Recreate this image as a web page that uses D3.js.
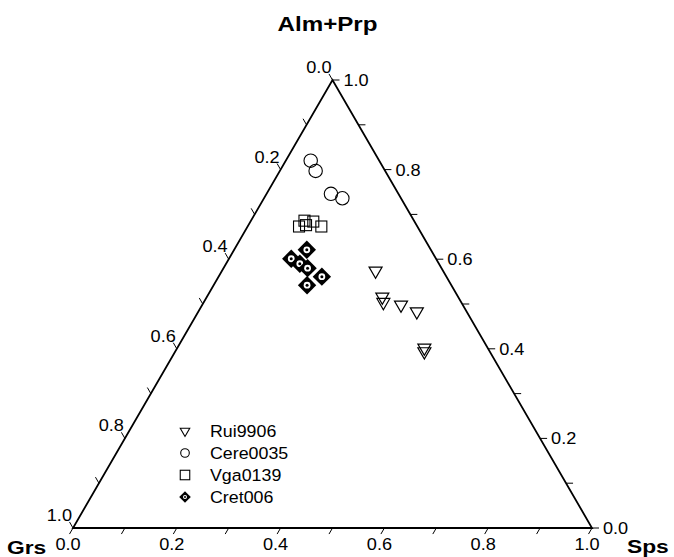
<!DOCTYPE html>
<html>
<head>
<meta charset="utf-8">
<script src="https://cdn.jsdelivr.net/npm/d3@7"></script>
<style>
  html, body { margin: 0; padding: 0; background: #fff; }
  svg { display: block; }
  text { font-family: Arial, "Liberation Sans", sans-serif; fill: #000; }
</style>
</head>
<body>
<svg id="chart" width="674" height="557"></svg>
<script>
// Garnet end-member fractions, each point as [Grs, Sps, Alm+Prp]
const rui9906 = [
  [0.130, 0.296, 0.574],
  [0.146, 0.338, 0.516],
  [0.150, 0.346, 0.504],
  [0.119, 0.383, 0.498],
  [0.096, 0.421, 0.483],
  [0.122, 0.476, 0.402],
  [0.126, 0.480, 0.394]
];
const cere0035 = [
  [0.132, 0.048, 0.820],
  [0.134, 0.069, 0.797],
  [0.130, 0.124, 0.746],
  [0.113, 0.151, 0.736]
];
const vga0139 = [
  [0.228, 0.099, 0.673],
  [0.211, 0.103, 0.686],
  [0.213, 0.111, 0.676],
  [0.195, 0.121, 0.684],
  [0.185, 0.142, 0.673]
];
const cret006 = [
  [0.239, 0.140, 0.621],
  [0.279, 0.120, 0.601],
  [0.268, 0.142, 0.590],
  [0.258, 0.162, 0.580],
  [0.240, 0.199, 0.561],
  [0.278, 0.180, 0.542]
];

const seriesNames = ["Rui9906", "Cere0035", "Vga0139", "Cret006"];
const apexTitle = "Alm+Prp";
const leftCornerTitle = "Grs";
const rightCornerTitle = "Sps";
const tickValues = d3.range(0, 11).map(i => i / 10);
const tickFormat = d3.format(".1f");

const svg = d3.select("#chart");

// Ternary frame: bottom edge carries Sps, height carries Alm+Prp
const xS = d3.scaleLinear().domain([0, 1]).range([73, 592]);
const yS = d3.scaleLinear().domain([0, 1]).range([528, 80]);
const px = (sps, alm) => xS(sps + alm / 2);
const py = alm => yS(alm);
const pos = d => [px(d[1], d[2]), py(d[2])];

const SX = 1.1; // text is drawn slightly wide
function label(x, y, str, anchor, size, weight, sx) {
  svg.append("text")
    .attr("transform", `translate(${x},${y}) scale(${sx || SX},1)`)
    .attr("text-anchor", anchor)
    .style("font-size", size + "px")
    .style("font-weight", weight || "normal")
    .text(str);
}

// Triangle outline
const corners = [[px(0, 0), py(0)], [px(1, 0), py(0)], [px(0, 1), py(1)]];
svg.append("path")
  .attr("d", d3.line()(corners) + "Z")
  .attr("fill", "none")
  .attr("stroke", "#000")
  .attr("stroke-width", 1.8)
  .attr("stroke-linejoin", "miter");

const TL = 7;
const c60 = 0.5, s60 = Math.sqrt(3) / 2;
const ticks = svg.append("g").attr("stroke", "#000").attr("stroke-width", 1);
const LBL = 16.5;

// Bottom axis (Sps): ticks slant down-left
tickValues.forEach(t => {
  const x = px(t, 0), y = py(0);
  ticks.append("line").attr("x1", x).attr("y1", y)
    .attr("x2", x - TL * c60).attr("y2", y + TL * s60);
  if (Math.round(t * 10) % 2 === 0) label(x - 5, y + 22, tickFormat(t), "middle", LBL);
});

// Right axis (Alm+Prp): ticks run horizontally outward
tickValues.forEach(t => {
  const x = px(1 - t, t), y = py(t);
  ticks.append("line").attr("x1", x).attr("y1", y)
    .attr("x2", x + TL).attr("y2", y);
  if (Math.round(t * 10) % 2 === 0) label(x + 11, y + 6, tickFormat(t), "start", LBL);
});

// Left axis (Grs): ticks slant up-left, 0 at apex
tickValues.forEach(t => {
  const x = px(0, 1 - t), y = py(1 - t);
  ticks.append("line").attr("x1", x).attr("y1", y)
    .attr("x2", x - TL * c60).attr("y2", y - TL * s60);
  if (Math.round(t * 10) % 2 === 0) label(x - 1, y - 7, tickFormat(t), "end", LBL);
});

// Corner titles
label(px(0, 1) - 5, 31, apexTitle, "middle", 21, "bold", 1.15);
label(7, 554, leftCornerTitle, "start", 19, "bold", 1.2);
label(627, 553, rightCornerTitle, "start", 19, "bold", 1.2);

// Marker drawers
function triDown(g, x, y, side, sw) {
  const h = side * Math.sqrt(3) / 2;
  const pts = [[x - side / 2, y - h / 3], [x + side / 2, y - h / 3], [x, y + 2 * h / 3]];
  g.append("path").attr("d", d3.line()(pts) + "Z")
    .attr("fill", "none").attr("stroke", "#000").attr("stroke-width", sw);
}
function circ(g, x, y, r, sw) {
  g.append("circle").attr("cx", x).attr("cy", y).attr("r", r)
    .attr("fill", "none").attr("stroke", "#000").attr("stroke-width", sw);
}
function sq(g, x, y, s, sw) {
  g.append("rect").attr("x", x - s / 2).attr("y", y - s / 2)
    .attr("width", s).attr("height", s)
    .attr("fill", "none").attr("stroke", "#000").attr("stroke-width", sw);
}
function dia(g, x, y, hd, ri, rd) {
  const pts = [[x, y - hd], [x + hd, y], [x, y + hd], [x - hd, y]];
  g.append("path").attr("d", d3.line()(pts) + "Z").attr("fill", "#000");
  g.append("circle").attr("cx", x).attr("cy", y).attr("r", ri).attr("fill", "#fff");
  g.append("circle").attr("cx", x).attr("cy", y).attr("r", rd).attr("fill", "#000");
}

const marks = svg.append("g");
rui9906.forEach(d => { const [x, y] = pos(d); triDown(marks, x, y, 13, 1.2); });
cere0035.forEach(d => { const [x, y] = pos(d); circ(marks, x, y, 6.7, 1.1); });
vga0139.forEach(d => { const [x, y] = pos(d); sq(marks, x, y, 11, 1.1); });
cret006.forEach(d => { const [x, y] = pos(d); dia(marks, x, y, 9.2, 3.4, 1.5); });

// Legend
const legend = svg.append("g");
const legX = 185, legTextX = 210, legY0 = 431, legDY = 22;
const legendDraw = [
  (g, x, y) => triDown(g, x, y, 9.5, 1.1),
  (g, x, y) => circ(g, x, y, 4.3, 1.1),
  (g, x, y) => sq(g, x, y, 9.5, 1.1),
  (g, x, y) => dia(g, x, y, 5.8, 2.0, 1.0)
];
seriesNames.forEach((name, i) => {
  const y = legY0 + i * legDY;
  legendDraw[i](legend, legX, y);
  label(legTextX, y + 5.5, name, "start", 16.5, "normal", 1.08);
});
</script>
</body>
</html>
